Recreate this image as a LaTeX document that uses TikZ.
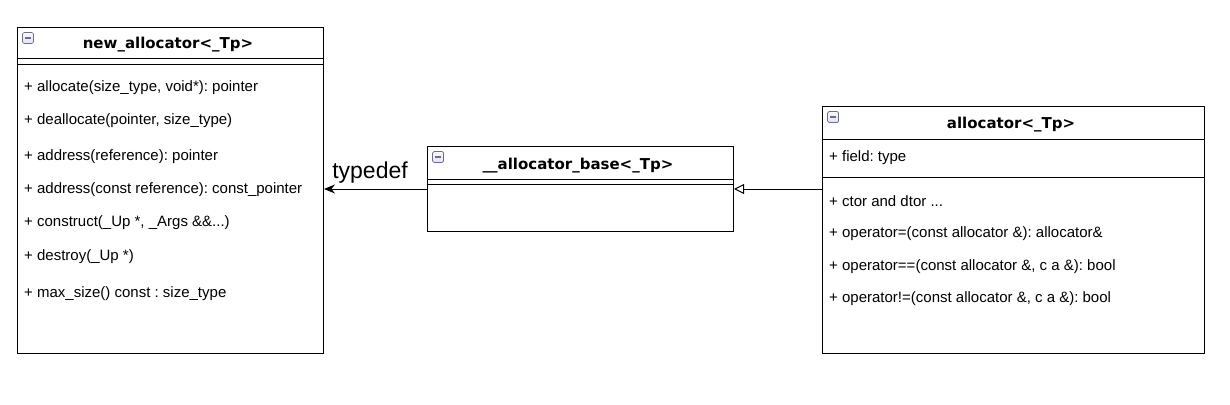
\documentclass[tikz,border=0pt]{standalone}
\usepackage{fontspec}
\setmainfont{Liberation Sans}
\newfontfamily\titlefont{DejaVu Sans}
\usetikzlibrary{arrows.meta}
\frenchspacing

\tikzset{
    umlbox/.style={draw, line width=1pt, anchor=north west, inner sep=0pt},
    umltitle/.style={font=\titlefont\bfseries\fontsize{15}{18}\selectfont},
    umlitem/.style={anchor=west, inner sep=0pt, font=\fontsize{15}{18}\selectfont},
    minusicon/.style={draw=gray!85!blue, line width=0.7pt, top color=gray!5, bottom color=gray!45!blue!15,
        rounded corners=1.5pt, minimum width=11pt, minimum height=11pt, inner sep=0pt,
        path picture={\draw[line width=1.4pt]
            ([xshift=-3pt]path picture bounding box.center) --
            ([xshift=3pt]path picture bounding box.center);}},
}

\begin{document}
\begin{tikzpicture}[x=1pt, y=-1pt]
    \useasboundingbox (0, 0) rectangle (1230, 404);

    % ===== new_allocator (left) =====
    \node[umlbox, minimum width=306pt, minimum height=326pt] (newalloc) at (17, 27) {};
    \node[minusicon] (newallocicon) at (28, 38) {};
    \node[umltitle] (newalloctitle) at (168, 45) {new\_allocator<\_Tp>};
    \draw[line width=1pt] (17, 59) -- (323, 59);
    \draw[line width=1pt] (17, 64) -- (323, 64);

    \node[umlitem] (na1) at (24, 88) {+ allocate(size\_type, void*): pointer};
    \node[umlitem] (na2) at (24, 121) {+ deallocate(pointer, size\_type)};
    \node[umlitem] (na3) at (24, 157) {+ address(reference): pointer};
    \node[umlitem] (na4) at (24, 190) {+ address(const reference): const\_pointer};
    \node[umlitem] (na5) at (24, 223) {+ construct(\_Up *, \_Args \&\&...)};
    \node[umlitem] (na6) at (24, 257) {+ destroy(\_Up *)};
    \node[umlitem] (na7) at (24, 294) {+ max\_size() const : size\_type};

    % ===== __allocator_base (middle) =====
    \node[umlbox, minimum width=306pt, minimum height=85pt] (allocbase) at (427, 146) {};
    \node[minusicon] (allocbaseicon) at (438, 157) {};
    \node[umltitle] (allocbasetitle) at (578, 166) {\_\_allocator\_base<\_Tp>};
    \draw[line width=1pt] (427, 179) -- (733, 179);
    \draw[line width=1pt] (427, 184) -- (733, 184);

    % ===== allocator (right) =====
    \node[umlbox, minimum width=382pt, minimum height=247pt] (alloc) at (822, 106) {};
    \node[minusicon] (allocicon) at (833, 117) {};
    \node[umltitle] (alloctitle) at (1011, 125) {allocator<\_Tp>};
    \draw[line width=1pt] (822, 139) -- (1204, 139);
    \draw[line width=1pt] (822, 177) -- (1204, 177);

    \node[umlitem] (al0) at (829, 158) {+ field: type};
    \node[umlitem] (al1) at (829, 201) {+ ctor and dtor ...};
    \node[umlitem] (al2) at (829, 234) {+ operator=(const allocator \&): allocator\&};
    \node[umlitem] (al3) at (829, 267) {+ operator==(const allocator \&, c a \&): bool};
    \node[umlitem] (al4) at (829, 299) {+ operator!=(const allocator \&, c a \&): bool};

    % ===== connectors =====
    \draw[line width=1pt, -{Stealth[length=11pt, width=9pt]}]
        (allocbase.west) -- (newalloc.east |- allocbase.west);
    \node[font=\fontsize{23}{26}\selectfont] (tdlabel) at (370, 173) {typedef};
    \draw[line width=1pt, -{Triangle[open, length=10pt, width=10pt]}]
        (alloc.west |- allocbase.east) -- (allocbase.east);
\end{tikzpicture}
\end{document}
